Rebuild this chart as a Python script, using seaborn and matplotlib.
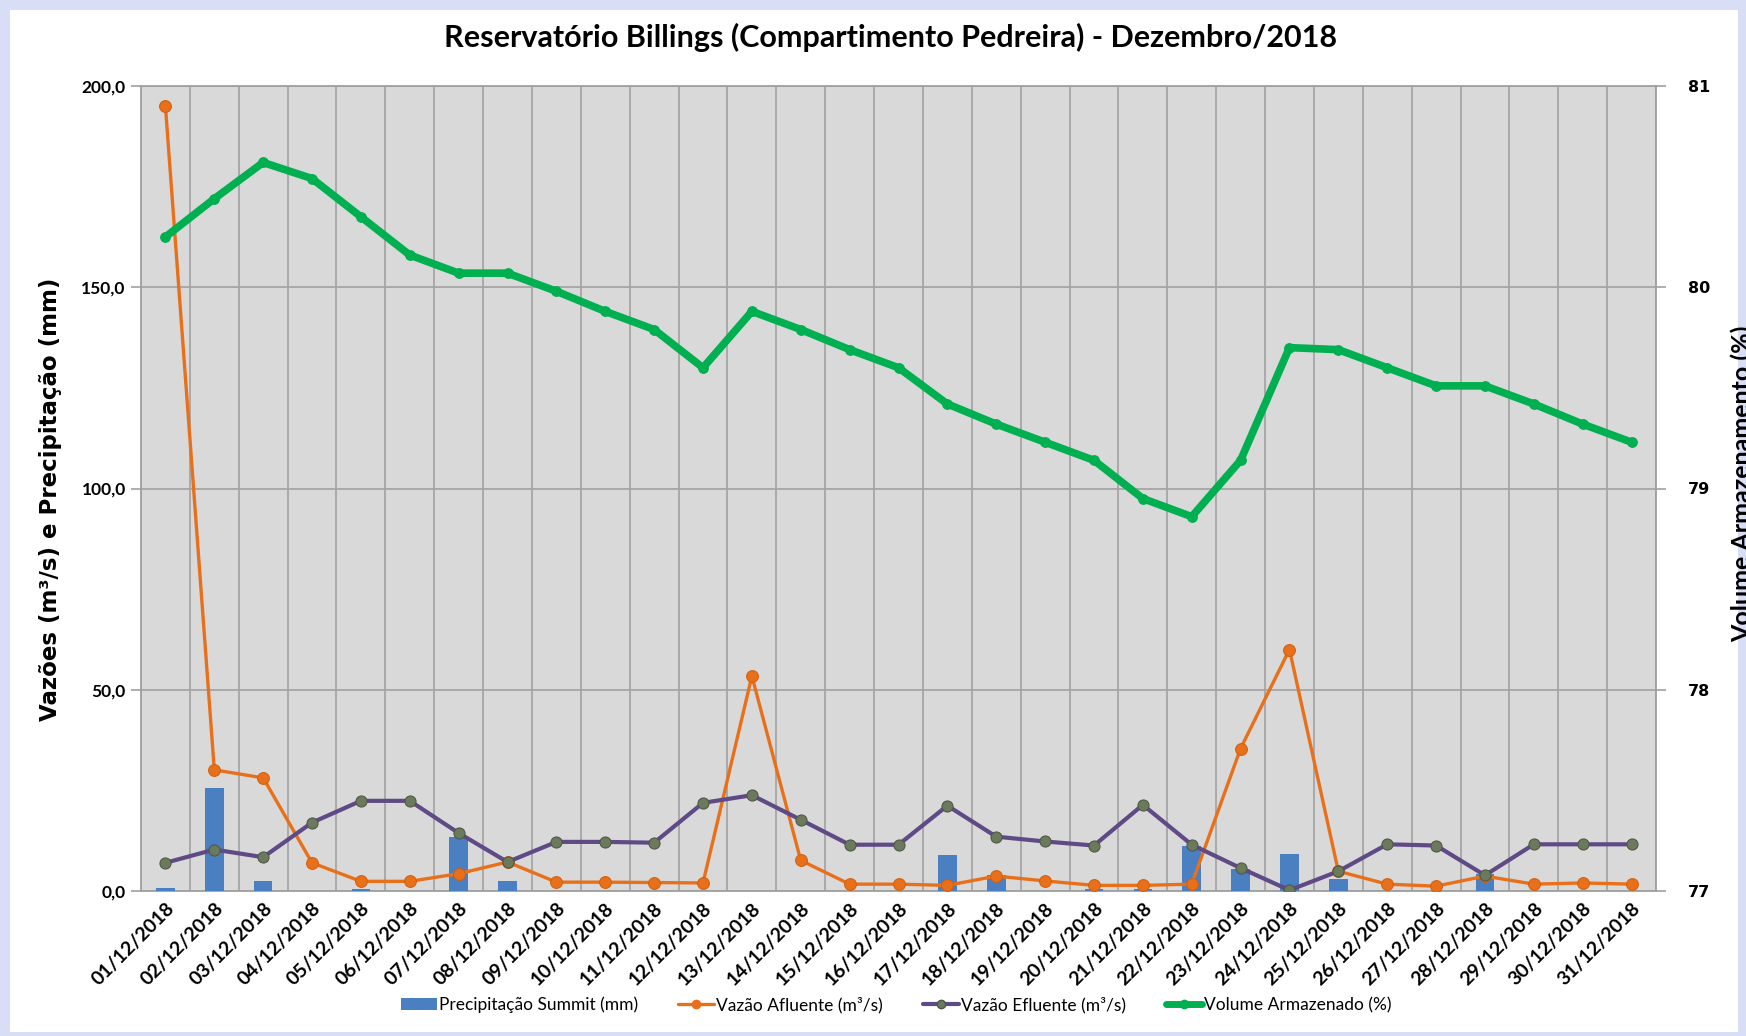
import numpy as np
import pandas as pd
import matplotlib
matplotlib.use("Agg")
import matplotlib.pyplot as plt
import seaborn as sns
from matplotlib.lines import Line2D
from matplotlib.patches import Patch, Rectangle

dias = ["01/12/2018", "02/12/2018", "03/12/2018", "04/12/2018", "05/12/2018",
        "06/12/2018", "07/12/2018", "08/12/2018", "09/12/2018", "10/12/2018",
        "11/12/2018", "12/12/2018", "13/12/2018", "14/12/2018", "15/12/2018",
        "16/12/2018", "17/12/2018", "18/12/2018", "19/12/2018", "20/12/2018",
        "21/12/2018", "22/12/2018", "23/12/2018", "24/12/2018", "25/12/2018",
        "26/12/2018", "27/12/2018", "28/12/2018", "29/12/2018", "30/12/2018",
        "31/12/2018"]
precipitacao = [0.8, 25.7, 2.5, 0.0, 0.4, 0.0, 13.4, 2.5, 0.0, 0.0, 0.0,
                0.0, 0.0, 0.0, 0.0, 0.0, 9.0, 3.9, 0.0, 0.5, 0.6, 11.1,
                5.5, 9.3, 3.1, 0.0, 0.0, 4.3, 0.0, 0.0, 0.0]
vazao_afluente = [195.0, 30.1, 28.1, 7.0, 2.4, 2.4, 4.3, 7.2, 2.2, 2.2, 2.1,
                  2.0, 53.4, 7.6, 1.7, 1.7, 1.4, 3.7, 2.5, 1.4, 1.4, 1.7,
                  35.4, 60.0, 4.9, 1.7, 1.2, 3.7, 1.7, 2.0, 1.7]
vazao_efluente = [7.0, 10.3, 8.4, 17.0, 22.4, 22.4, 14.4, 7.2, 12.2, 12.2, 12.0,
                  21.9, 23.8, 17.7, 11.5, 11.5, 21.2, 13.5, 12.3, 11.3, 21.4,
                  11.5, 5.7, 0.2, 4.9, 11.6, 11.3, 3.9, 11.6, 11.6, 11.6]
volume = [80.25, 80.44, 80.62, 80.54, 80.35, 80.16, 80.07, 80.07, 79.98, 79.88,
          79.79, 79.60, 79.88, 79.79, 79.69, 79.60, 79.42, 79.32, 79.23, 79.14,
          78.95, 78.86, 79.14, 79.70, 79.69, 79.60, 79.51, 79.51, 79.42, 79.32,
          79.23]

legendas = ["Precipitação Summit (mm)", "Vazão Afluente (m³/s)",
            "Vazão Efluente (m³/s)", "Volume Armazenado (%)"]

c_bar = "#4a7fc1"
c_afl = "#e8701a"
c_efl = "#5f4a86"
c_vol = "#00b050"

df = pd.DataFrame({"x": np.arange(len(dias)), "prec": precipitacao,
                   "afl": vazao_afluente, "efl": vazao_efluente, "vol": volume})

sns.set_theme(style="white")
plt.rcParams["font.family"] = ["Lato", "DejaVu Sans"]
plt.rcParams["text.color"] = "black"
plt.rcParams["xtick.color"] = "black"
plt.rcParams["ytick.color"] = "black"

W, H = 1746, 1036
fig = plt.figure(figsize=(W / 100, H / 100), dpi=100, facecolor="#d8def6")
fig.patches.append(Rectangle((10 / W, 4 / H), 1728 / W, 1022 / H,
                             transform=fig.transFigure, facecolor="white",
                             edgecolor="none", zorder=-5))

ax = fig.add_axes([141 / W, 145 / H, 1515 / W, 805 / H])
ax.set_facecolor("#d9d9d9")

sns.barplot(data=df, x="x", y="prec", color=c_bar, width=0.38, saturation=1,
            linewidth=0, edgecolor="none", ax=ax, zorder=3)
sns.lineplot(data=df, x="x", y="afl", color=c_afl, lw=2.4, marker="o",
             markersize=8.5, markerfacecolor=c_afl, markeredgecolor="#d45f0c",
             ax=ax, zorder=4)
sns.lineplot(data=df, x="x", y="efl", color=c_efl, lw=3, marker="o",
             markersize=8, markerfacecolor="#6b7a5c", markeredgecolor="#4d5842",
             ax=ax, zorder=4)

ax.set_xlim(-0.5, len(dias) - 0.5)
ax.set_ylim(0, 200)
ax.set_yticks([0, 50, 100, 150, 200])
ax.set_yticklabels(["0,0", "50,0", "100,0", "150,0", "200,0"],
                   fontsize=12.5, fontweight="bold")
ax.set_xticks(df["x"])
ax.set_xticklabels(dias, rotation=45, ha="right", rotation_mode="anchor",
                   fontsize=14, fontweight="bold")
ax.set_xticks(np.arange(-0.5, len(dias), 1), minor=True)
ax.tick_params(axis="x", which="major", length=0, pad=6)
ax.tick_params(axis="x", which="minor", length=8, color="#a0a0a0", width=1.2)
ax.tick_params(axis="y", length=7, color="#a0a0a0", width=1.2, pad=4)
for lbl in ax.get_xticklabels():
    lbl.set_x(lbl.get_position()[0])
ax.grid(False)
ax.yaxis.grid(True, color="#a5a5a5", lw=1.3, zorder=1)
ax.xaxis.grid(True, which="minor", color="#a5a5a5", lw=1.3, zorder=1)
ax.set_axisbelow(True)
ax.set_xlabel("")
ax.set_ylabel("")
for s in ax.spines.values():
    s.set_color("#a0a0a0")
    s.set_linewidth(1.3)

ax2 = ax.twinx()
sns.lineplot(data=df, x="x", y="vol", color=c_vol, lw=5.5, marker="o",
             markersize=7, markerfacecolor=c_vol, markeredgecolor=c_vol,
             ax=ax2, zorder=5)
ax2.set_ylim(77, 81)
ax2.set_yticks([77, 78, 79, 80, 81])
ax2.set_yticklabels(["77", "78", "79", "80", "81"], fontsize=11.5,
                    fontweight="bold", family="DejaVu Sans")
ax2.tick_params(axis="y", length=7, color="#a0a0a0", width=1.2, pad=16)
ax2.set_ylabel("")
ax2.grid(False)
for s in ax2.spines.values():
    s.set_visible(False)

fig.text(891 / W, 1 - 37 / H,
         "Reservatório Billings (Compartimento Pedreira) - Dezembro/2018",
         ha="center", va="center", fontsize=22, fontweight="bold")
fig.text(51 / W, 1 - 499 / H, "Vazões (m³/s) e Precipitação (mm)",
         rotation=90, ha="center", va="center", fontsize=16.5,
         fontweight="bold", family="DejaVu Sans")
fig.text(1742 / W, 1 - 484 / H, "Volume Armazenamento (%)",
         rotation=90, ha="center", va="center", fontsize=18, fontweight="bold")

handles = [
    Patch(facecolor=c_bar, edgecolor="none"),
    Line2D([], [], color=c_afl, lw=2.4, marker="o", markersize=6),
    Line2D([], [], color=c_efl, lw=3, marker="o", markersize=6,
           markerfacecolor="#6b7a5c", markeredgecolor="#4d5842"),
    Line2D([], [], color=c_vol, lw=5, marker="o", markersize=6),
]
fig.legend(handles, legendas, loc="center", bbox_to_anchor=(896 / W, 1 - 1005 / H),
           ncol=4, frameon=False, fontsize=12.5, handlelength=2.1,
           handletextpad=0.1, columnspacing=2.3)

fig.savefig("out.png", dpi=100, facecolor=fig.get_facecolor())
